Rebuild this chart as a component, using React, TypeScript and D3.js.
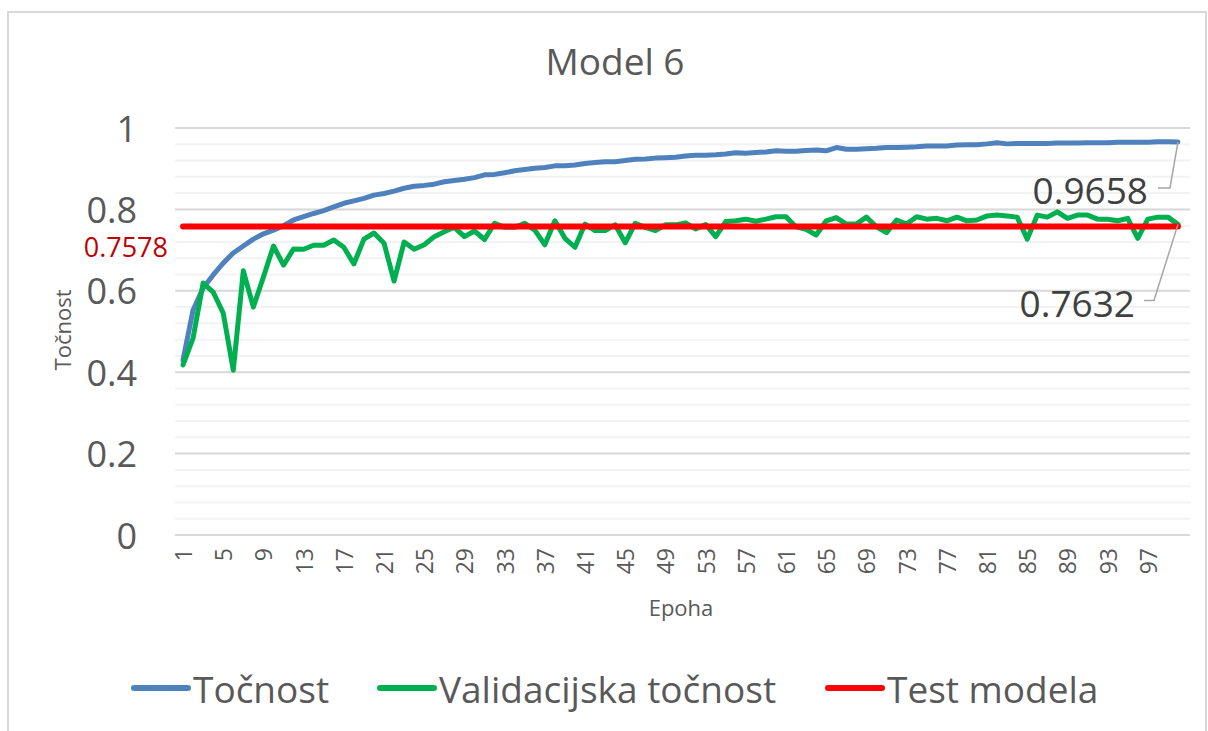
import React from 'react';
import * as d3 from 'd3';

const epochs = d3.range(1, 101);

const accuracy = [
  0.43, 0.553, 0.607, 0.639, 0.668, 0.693, 0.71, 0.727, 0.74, 0.749,
  0.76, 0.774, 0.782, 0.79, 0.797, 0.806, 0.815, 0.821, 0.827, 0.835,
  0.839, 0.845, 0.852, 0.857, 0.859, 0.862, 0.868, 0.871, 0.874, 0.878,
  0.885, 0.886, 0.89, 0.895, 0.898, 0.901, 0.903, 0.907, 0.907, 0.909,
  0.913, 0.915, 0.917, 0.917, 0.92, 0.923, 0.924, 0.926, 0.927, 0.928,
  0.931, 0.933, 0.933, 0.934, 0.936, 0.939, 0.938, 0.94, 0.941, 0.944,
  0.943, 0.943, 0.945, 0.946, 0.944, 0.952, 0.948, 0.948, 0.949, 0.95,
  0.952, 0.952, 0.953, 0.954, 0.956, 0.956, 0.956, 0.958, 0.959, 0.959,
  0.961, 0.964, 0.961, 0.962, 0.962, 0.962, 0.962, 0.963, 0.963, 0.963,
  0.964, 0.964, 0.964, 0.965, 0.965, 0.965, 0.965, 0.966, 0.966, 0.9658,
];

const validation = [
  0.418, 0.484, 0.619, 0.597, 0.545, 0.405, 0.649, 0.56, 0.634, 0.71,
  0.663, 0.703, 0.702, 0.712, 0.712, 0.725, 0.707, 0.666, 0.727, 0.742,
  0.717, 0.624, 0.72, 0.702, 0.713, 0.733, 0.745, 0.756, 0.733, 0.747,
  0.726, 0.766, 0.756, 0.756, 0.766, 0.749, 0.713, 0.772, 0.729, 0.707,
  0.764, 0.748, 0.748, 0.762, 0.718, 0.766, 0.756, 0.748, 0.762, 0.762,
  0.767, 0.752, 0.763, 0.733, 0.77, 0.772, 0.776, 0.771, 0.776, 0.782,
  0.782, 0.757, 0.751, 0.737, 0.772, 0.78, 0.764, 0.764, 0.781, 0.757,
  0.743, 0.774, 0.764, 0.782, 0.776, 0.778, 0.772, 0.781, 0.772, 0.774,
  0.784, 0.786, 0.784, 0.781, 0.727, 0.786, 0.781, 0.794, 0.778, 0.786,
  0.786, 0.776, 0.776, 0.772, 0.778, 0.729, 0.776, 0.781, 0.781, 0.7632,
];

const testScore = 0.7578;
const yTicks = [0, 0.2, 0.4, 0.6, 0.8, 1];
const legendItems = [
  { label: 'Točnost', color: '#4f81bd', x: 134 },
  { label: 'Validacijska točnost', color: '#00b050', x: 380 },
  { label: 'Test modela', color: '#ff0000', x: 828 },
];

const FONT = '"Open Sans", "Segoe UI", sans-serif';
const TEXT = '#595959';

export default function App() {
  const x = d3.scaleBand<number>().domain(epochs).range([178, 1183]);
  const cx = (e: number) => (x(e) as number) + x.bandwidth() / 2;
  const y = d3.scaleLinear().domain([0, 1]).range([535, 128]);

  const line = d3
    .line<number>()
    .x((_, i) => cx(epochs[i]))
    .y((d) => y(d));

  const minorTicks = d3.range(0, 1.0001, 0.04);
  const lastX = cx(epochs[epochs.length - 1]);

  return (
    <svg width={1208} height={731} style={{ position: 'absolute', left: 0, top: 0 }}>
      <rect x={0} y={0} width={1208} height={731} fill="#fff" />
      <rect x={8} y={12} width={1198} height={740} fill="#fff" stroke="#d9d9d9" strokeWidth={2} />

      <text x={615} y={60} textAnchor="middle" dominantBaseline="central" fontFamily={FONT} fontSize={37} fill={TEXT}>
        Model 6
      </text>

      {minorTicks.map((t) => (
        <line key={'m' + t} x1={175} x2={1190} y1={y(t)} y2={y(t)} stroke="#f2f2f2" strokeWidth={2} />
      ))}
      {yTicks.map((t) => (
        <line key={'g' + t} x1={175} x2={1190} y1={y(t)} y2={y(t)} stroke="#d9d9d9" strokeWidth={2} />
      ))}

      {yTicks.map((t) => (
        <text key={'yl' + t} x={137} y={y(t)} textAnchor="end" dominantBaseline="central" fontFamily={FONT} fontSize={36} fill={TEXT}>
          {d3.format('~g')(t)}
        </text>
      ))}

      <text x={168} y={246} textAnchor="end" dominantBaseline="central" fontFamily={FONT} fontSize={27} fill="#c00000">
        {testScore}
      </text>

      <text transform="translate(62,330) rotate(-90)" textAnchor="middle" dominantBaseline="central" fontFamily={FONT} fontSize={22} fill={TEXT}>
        Točnost
      </text>

      {epochs.filter((e) => (e - 1) % 4 === 0).map((e) => (
        <text key={'xl' + e} transform={`translate(${cx(e)},548) rotate(-90)`} textAnchor="end" dominantBaseline="central" fontFamily={FONT} fontSize={23} fill={TEXT}>
          {e}
        </text>
      ))}

      <text x={681} y={607} textAnchor="middle" dominantBaseline="central" fontFamily={FONT} fontSize={22} fill={TEXT}>
        Epoha
      </text>

      <path d={line(accuracy) || ''} fill="none" stroke="#4f81bd" strokeWidth={5} strokeLinejoin="round" strokeLinecap="round" />
      <path d={line(validation) || ''} fill="none" stroke="#00b050" strokeWidth={5} strokeLinejoin="round" strokeLinecap="round" />
      <line x1={cx(epochs[0])} x2={lastX} y1={y(testScore)} y2={y(testScore)} stroke="#ff0000" strokeWidth={6} strokeLinecap="round" />

      <polyline
        points={`${lastX},${y(accuracy[99])} ${lastX - 8},${y(accuracy[99]) + 46} ${lastX - 20},${y(accuracy[99]) + 46}`}
        fill="none" stroke="#a6a6a6" strokeWidth={1.5}
      />
      <text x={1148} y={189} textAnchor="end" dominantBaseline="central" fontFamily={FONT} fontSize={37} fill="#404040">
        {accuracy[99]}
      </text>
      <polyline
        points={`${lastX},${y(validation[99])} ${lastX - 24},${y(validation[99]) + 76} ${lastX - 34},${y(validation[99]) + 76}`}
        fill="none" stroke="#a6a6a6" strokeWidth={1.5}
      />
      <text x={1135} y={302} textAnchor="end" dominantBaseline="central" fontFamily={FONT} fontSize={37} fill="#404040">
        {validation[99]}
      </text>

      {legendItems.map((it) => (
        <g key={it.label}>
          <line x1={it.x} x2={it.x + 54} y1={688} y2={688} stroke={it.color} strokeWidth={6} strokeLinecap="round" />
          <text x={it.x + 59} y={688} dominantBaseline="central" fontFamily={FONT} fontSize={37} fill={TEXT}>
            {it.label}
          </text>
        </g>
      ))}
    </svg>
  );
}
